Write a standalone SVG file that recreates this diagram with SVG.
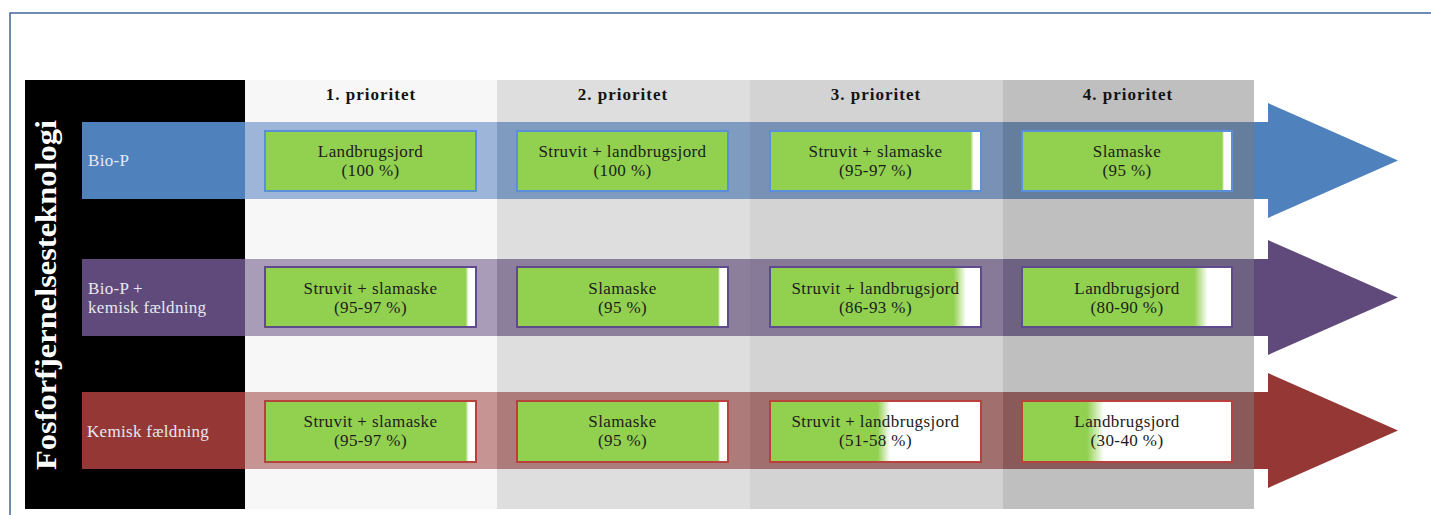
<svg xmlns="http://www.w3.org/2000/svg" width="1431" height="515" viewBox="0 0 1431 515">
<style>
.hdr{font-family:"Liberation Serif","DejaVu Serif",serif;font-weight:bold;font-size:17px;letter-spacing:1px;fill:#141414;text-anchor:middle}
.lbl{font-family:"Liberation Serif","DejaVu Serif",serif;font-size:17px;letter-spacing:0.3px;fill:#e6e9f0}
.bt{font-family:"Liberation Serif","DejaVu Serif",serif;font-size:17px;letter-spacing:0.4px;fill:#1c1c1c;text-anchor:middle}
.title{font-family:"Liberation Serif","DejaVu Serif",serif;font-weight:bold;font-size:30px;fill:#ffffff;text-anchor:middle}
.b1{stroke:#5b8fd9;stroke-width:2}
.b2{stroke:#5e4a8c;stroke-width:2}
.b3{stroke:#b8403d;stroke-width:2}
</style>
<defs>
<linearGradient id="g100" x1="0" y1="0" x2="1" y2="0"><stop offset="0" stop-color="#92d050"/><stop offset="1" stop-color="#92d050"/></linearGradient>
<linearGradient id="g9597" x1="0" y1="0" x2="1" y2="0"><stop offset="0.95" stop-color="#92d050"/><stop offset="0.965" stop-color="#ffffff"/></linearGradient>
<linearGradient id="g95" x1="0" y1="0" x2="1" y2="0"><stop offset="0.953" stop-color="#92d050"/><stop offset="0.962" stop-color="#ffffff"/></linearGradient>
<linearGradient id="g8693" x1="0" y1="0" x2="1" y2="0"><stop offset="0.87" stop-color="#92d050"/><stop offset="0.93" stop-color="#ffffff"/></linearGradient>
<linearGradient id="g8090" x1="0" y1="0" x2="1" y2="0"><stop offset="0.82" stop-color="#92d050"/><stop offset="0.885" stop-color="#ffffff"/></linearGradient>
<linearGradient id="g5158" x1="0" y1="0" x2="1" y2="0"><stop offset="0.51" stop-color="#92d050"/><stop offset="0.57" stop-color="#ffffff"/></linearGradient>
<linearGradient id="g3040" x1="0" y1="0" x2="1" y2="0"><stop offset="0.31" stop-color="#92d050"/><stop offset="0.39" stop-color="#ffffff"/></linearGradient>
</defs>
<rect x="0" y="0" width="1431" height="515" fill="#ffffff"/>
<rect x="10" y="13" width="1440" height="520" fill="none" stroke="#41669e" stroke-width="1.5"/>

<g id="columns">
<rect x="245" y="80" width="252" height="429" fill="#f7f7f7"/>
<rect x="497" y="80" width="253" height="429" fill="#dedede"/>
<rect x="750" y="80" width="253" height="429" fill="#d3d3d3"/>
<rect x="1003" y="80" width="251" height="429" fill="#bfbfbf"/>
<text class="hdr" x="371" y="100">1. prioritet</text>
<text class="hdr" x="623" y="100">2. prioritet</text>
<text class="hdr" x="876" y="100">3. prioritet</text>
<text class="hdr" x="1128" y="100">4. prioritet</text>
</g>

<g id="side-panel">
<rect x="25" y="80" width="220" height="429" fill="#000000"/>
<text class="title" transform="translate(56,295) rotate(-90)" textLength="350" lengthAdjust="spacingAndGlyphs">Fosforfjernelsesteknologi</text>
</g>

<g id="connectors">
<g id="arrow-biop">
<path d="M82,122 H1268 V103 L1398,160.5 L1268,218 V199 H82 Z" fill="#4f81bd"/>
<rect x="245" y="122" width="252" height="77" fill="#9db5d8"/>
<rect x="497" y="122" width="253" height="77" fill="#7f9bc0"/>
<rect x="750" y="122" width="253" height="77" fill="#7891b4"/>
<rect x="1003" y="122" width="251" height="77" fill="#657e9e"/>
</g>
<g id="arrow-biop-kemisk">
<path d="M82,259 H1268 V240 L1398,297.5 L1268,355 V336 H82 Z" fill="#604a7b"/>
<rect x="245" y="259" width="252" height="77" fill="#a99cb9"/>
<rect x="497" y="259" width="253" height="77" fill="#8b7f9c"/>
<rect x="750" y="259" width="253" height="77" fill="#867a98"/>
<rect x="1003" y="259" width="251" height="77" fill="#6e6282"/>
</g>
<g id="arrow-kemisk">
<path d="M82,392 H1268 V373 L1398,430.5 L1268,488 V469 H82 Z" fill="#953735"/>
<rect x="245" y="392" width="252" height="77" fill="#c79494"/>
<rect x="497" y="392" width="253" height="77" fill="#ae7b7b"/>
<rect x="750" y="392" width="253" height="77" fill="#a26f6f"/>
<rect x="1003" y="392" width="251" height="77" fill="#8a5a5a"/>
</g>
</g>

<g id="row-labels">
<text class="lbl" x="88" y="166">Bio-P</text>
<text class="lbl" x="88" y="294">Bio-P +</text>
<text class="lbl" x="88" y="313">kemisk fældning</text>
<text class="lbl" x="87" y="437">Kemisk fældning</text>
</g>

<g id="r1c1"><rect class="b1" x="265" y="131" width="211" height="60" fill="url(#g100)"/><text class="bt" x="370.5" y="157">Landbrugsjord</text><text class="bt" x="370.5" y="176">(100 %)</text></g>
<g id="r1c2"><rect class="b1" x="517" y="131" width="211" height="60" fill="url(#g100)"/><text class="bt" x="622.5" y="157">Struvit + landbrugsjord</text><text class="bt" x="622.5" y="176">(100 %)</text></g>
<g id="r1c3"><rect class="b1" x="770" y="131" width="211" height="60" fill="url(#g9597)"/><text class="bt" x="875.5" y="157">Struvit + slamaske</text><text class="bt" x="875.5" y="176">(95-97 %)</text></g>
<g id="r1c4"><rect class="b1" x="1022" y="131" width="210" height="60" fill="url(#g95)"/><text class="bt" x="1127" y="157">Slamaske</text><text class="bt" x="1127" y="176">(95 %)</text></g>

<g id="r2c1"><rect class="b2" x="265" y="267" width="211" height="60" fill="url(#g9597)"/><text class="bt" x="370.5" y="294">Struvit + slamaske</text><text class="bt" x="370.5" y="313">(95-97 %)</text></g>
<g id="r2c2"><rect class="b2" x="517" y="267" width="211" height="60" fill="url(#g95)"/><text class="bt" x="622.5" y="294">Slamaske</text><text class="bt" x="622.5" y="313">(95 %)</text></g>
<g id="r2c3"><rect class="b2" x="770" y="267" width="211" height="60" fill="url(#g8693)"/><text class="bt" x="875.5" y="294">Struvit + landbrugsjord</text><text class="bt" x="875.5" y="313">(86-93 %)</text></g>
<g id="r2c4"><rect class="b2" x="1022" y="267" width="210" height="60" fill="url(#g8090)"/><text class="bt" x="1127" y="294">Landbrugsjord</text><text class="bt" x="1127" y="313">(80-90 %)</text></g>

<g id="r3c1"><rect class="b3" x="265" y="401" width="211" height="61" fill="url(#g9597)"/><text class="bt" x="370.5" y="427">Struvit + slamaske</text><text class="bt" x="370.5" y="446">(95-97 %)</text></g>
<g id="r3c2"><rect class="b3" x="517" y="401" width="211" height="61" fill="url(#g95)"/><text class="bt" x="622.5" y="427">Slamaske</text><text class="bt" x="622.5" y="446">(95 %)</text></g>
<g id="r3c3"><rect class="b3" x="770" y="401" width="211" height="61" fill="url(#g5158)"/><text class="bt" x="875.5" y="427">Struvit + landbrugsjord</text><text class="bt" x="875.5" y="446">(51-58 %)</text></g>
<g id="r3c4"><rect class="b3" x="1022" y="401" width="210" height="61" fill="url(#g3040)"/><text class="bt" x="1127" y="427">Landbrugsjord</text><text class="bt" x="1127" y="446">(30-40 %)</text></g>
</svg>
